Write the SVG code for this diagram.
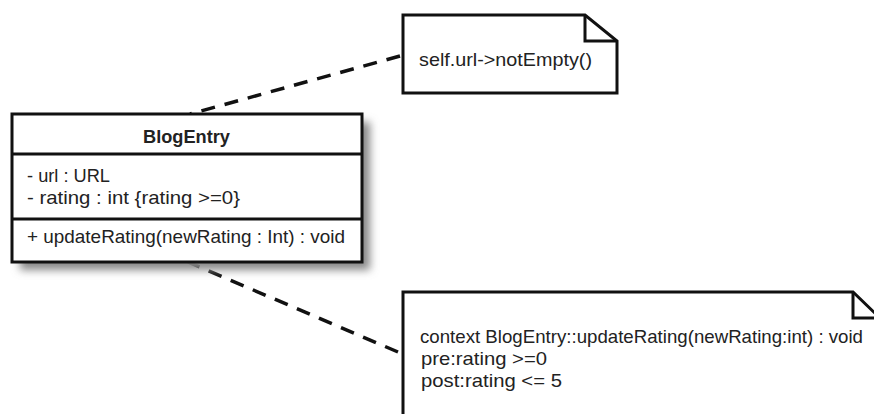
<svg xmlns="http://www.w3.org/2000/svg" width="874" height="414" viewBox="0 0 874 414">
<style>
.box{fill:#fff;stroke:#111;stroke-width:3}
.ln{stroke:#111;stroke-width:3;fill:none}
.t{font-family:"Liberation Sans",Arial,sans-serif;font-size:19px;fill:#222}
.b{font-weight:bold}
.dash{stroke:#111;stroke-width:3.5;fill:none;stroke-dasharray:14 10}
</style>
<defs>
<filter id="sh" x="-20%" y="-20%" width="140%" height="140%"><feGaussianBlur stdDeviation="4"/></filter>
</defs>
<g id="connectors">
<line class="dash" x1="400" y1="56" x2="190" y2="114"/>
<line class="dash" x1="398" y1="352" x2="188" y2="262"/>
</g>
<g id="BlogEntry">
<rect x="20" y="122" width="350" height="148" fill="#888" filter="url(#sh)"/>
<rect class="box" x="12" y="114" width="350" height="148"/>
<line class="ln" x1="12" y1="154" x2="362" y2="154"/>
<line class="ln" x1="12" y1="219" x2="362" y2="219"/>
<text class="t b" x="143" y="143" textLength="87" lengthAdjust="spacingAndGlyphs">BlogEntry</text>
<text class="t" x="27" y="182" textLength="83" lengthAdjust="spacingAndGlyphs">- url : URL</text>
<text class="t" x="27" y="204" textLength="213" lengthAdjust="spacingAndGlyphs">- rating : int {rating &gt;=0}</text>
<text class="t" x="27" y="243" textLength="318" lengthAdjust="spacingAndGlyphs">+ updateRating(newRating : Int) : void</text>
</g>
<g id="note1">
<path class="box" d="M403,15 H585 L617,41 V93 H403 Z"/>
<path class="ln" d="M585,15 V41 H617"/>
<text class="t" x="419" y="66" textLength="173" lengthAdjust="spacingAndGlyphs">self.url-&gt;notEmpty()</text>
</g>
<g id="note2">
<path class="box" d="M403,420 V292 H853 L880,318 V420"/>
<path class="ln" d="M853,292 V318 H880"/>
<text class="t" x="420" y="343" textLength="443" lengthAdjust="spacingAndGlyphs">context BlogEntry::updateRating(newRating:int) : void</text>
<text class="t" x="421" y="365" textLength="126" lengthAdjust="spacingAndGlyphs">pre:rating &gt;=0</text>
<text class="t" x="421" y="387" textLength="141" lengthAdjust="spacingAndGlyphs">post:rating &lt;= 5</text>
</g>
</svg>
